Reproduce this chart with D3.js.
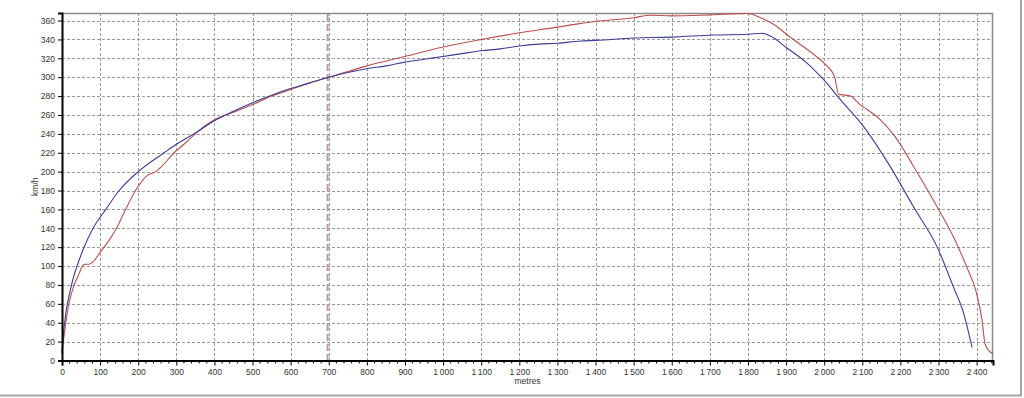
<!DOCTYPE html>
<html>
<head>
<meta charset="utf-8">
<script src="https://cdn.jsdelivr.net/npm/d3@7"></script>
<style>
  body { margin: 0; background: #fff; }
  text { font-family: "Liberation Sans", Arial, sans-serif; fill: #333; }
</style>
</head>
<body>
<div id="graph"></div>
<script>
// distances (metres) and speeds (km/h)
var blueDist = [0, 3, 10, 20, 30, 43, 56, 80, 115, 150, 200, 268, 300, 350, 400, 450, 500, 550, 600, 650, 700, 750, 800, 850, 900, 950, 1000, 1050, 1100, 1150, 1200, 1250, 1300, 1361, 1400, 1500, 1600, 1709, 1800, 1837, 1859, 1902, 1955, 1998, 2043, 2103, 2173, 2234, 2296, 2339, 2366, 2388]
var blueSpeed = [8, 25, 50, 71, 88, 104, 118, 139, 160, 180, 200, 220, 229, 241, 254, 264, 273, 281, 288, 294, 300, 305, 309, 312, 316, 319, 322, 325, 328, 330, 333, 335, 336, 338.4, 339, 341.5, 342.5, 344.7, 345.5, 346.5, 343.6, 331, 315, 297.6, 276, 248, 205.6, 163, 120.6, 78, 50, 14]

var redDist = [0, 5, 10, 18, 32, 45, 53, 60, 71, 80, 101, 123, 143, 167, 193, 210, 224, 246, 263, 294, 320, 350, 380, 400, 450, 500, 550, 600, 650, 700, 750, 800, 900, 1000, 1100, 1200, 1300, 1361, 1400, 1500, 1544, 1600, 1700, 1798, 1833, 1867, 1912, 1973, 2007, 2027, 2038, 2055, 2069, 2094, 2112, 2147, 2186, 2234, 2296, 2339, 2374, 2400, 2414, 2422, 2431, 2444]
var redSpeed = [8, 25, 40, 60, 80, 92, 100, 102, 102, 104, 115, 127, 140, 160, 180, 190, 196, 200, 206, 220, 229, 240, 250, 255, 263, 271, 280, 287, 294, 300, 306, 312, 322, 332, 340, 347, 353, 357, 359, 363, 365.6, 365, 366, 367.4, 363, 356, 342, 324, 312, 301, 282, 281, 280, 271, 266, 255, 237, 206, 163, 131, 99, 71, 43, 18, 11, 7]

var markerDist = 697
var yTicks = d3.range(0, 361, 20)
var xTicks = d3.range(0, 2401, 100)
var xMinor = d3.range(0, 2441, 20)

var svg
var graph
var x
var y
var margin = {top: 13, right: 31, bottom: 37.5, left: 62},
  width = 1024 - margin.left - margin.right,
  height = 398 - margin.top - margin.bottom;

var fmt = d => d >= 1000 ? Math.floor(d / 1000) + "\u2009" + d3.format("03d")(d % 1000) : d

function setGraph() {
  svg = d3.select("#graph").append("svg")
    .attr("width", 1024)
    .attr("height", 398)

  // outer panel edge
  svg.append("line").attr("x1", 1021).attr("x2", 1021).attr("y1", 0).attr("y2", 396)
    .attr("stroke", "#a8a8a8").attr("stroke-width", 2)
  svg.append("line").attr("x1", 0).attr("x2", 1022).attr("y1", 395.5).attr("y2", 395.5)
    .attr("stroke", "#a8a8a8").attr("stroke-width", 2)

  graph = svg.append("g")
    .attr("transform", "translate(" + margin.left + "," + margin.top + ")");

  x = d3.scaleLinear().domain([0, 2443]).range([0, width])
  y = d3.scaleLinear().domain([0, 368]).range([height, 0])
}

function renderGraph() {
  // grid
  graph.append("g")
    .selectAll("line")
    .data(yTicks.slice(1))
    .enter().append("line")
    .attr("x1", 0).attr("x2", width)
    .attr("y1", d => Math.round(y(d)) + 0.5).attr("y2", d => Math.round(y(d)) + 0.5)
    .attr("stroke", "#9a9a9a").attr("stroke-dasharray", "3,2")

  graph.append("g")
    .selectAll("line")
    .data(xTicks.slice(1))
    .enter().append("line")
    .attr("y1", 0).attr("y2", height)
    .attr("x1", d => Math.round(x(d)) + 0.5).attr("x2", d => Math.round(x(d)) + 0.5)
    .attr("stroke", "#9a9a9a").attr("stroke-dasharray", "3,2")

  // top / right border
  graph.append("path")
    .attr("d", "M0,0.5H" + (width - 0.5) + "V" + height)
    .attr("fill", "none").attr("stroke", "#8a8a8a").attr("stroke-width", 1.5)

  // marker line
  graph.append("line")
    .attr("x1", x(markerDist)).attr("x2", x(markerDist))
    .attr("y1", 1).attr("y2", height)
    .attr("stroke", "#b8999e").attr("stroke-width", 2).attr("stroke-dasharray", "7,3")

  // series
  var line = d3.line().curve(d3.curveMonotoneX).x(d => x(d[0])).y(d => y(d[1]))
  graph.append("path")
    .datum(redDist.map((d, i) => [d, redSpeed[i]]))
    .attr("d", line)
    .attr("fill", "none").attr("stroke", "#bb4f4f").attr("stroke-width", 1.1)
  graph.append("path")
    .datum(blueDist.map((d, i) => [d, blueSpeed[i]]))
    .attr("d", line)
    .attr("fill", "none").attr("stroke", "#3c3c96").attr("stroke-width", 1.1)

  // axes
  var yAxis = graph.append("g")
    .call(d3.axisLeft(y).tickValues(yTicks).tickSize(4).tickPadding(3))
  var xAxis = graph.append("g")
    .attr("transform", "translate(0," + height + ")")
    .call(d3.axisBottom(x).tickValues(xTicks).tickSize(5).tickPadding(3).tickFormat(fmt))
  graph.append("g")
    .attr("transform", "translate(0," + height + ")")
    .selectAll("line")
    .data(xMinor.filter(d => d % 100 != 0))
    .enter().append("line")
    .attr("x1", d => x(d)).attr("x2", d => x(d))
    .attr("y1", 0).attr("y2", 3)
    .attr("stroke", "#000")

  ;[yAxis, xAxis].forEach(a => {
    a.select(".domain").attr("stroke", "#000").attr("stroke-width", 2)
    a.selectAll("text").attr("font-size", 8.5).attr("fill", "#333").attr("font-family", "Liberation Sans, Arial, sans-serif")
  })

  // axis titles
  graph.append("text")
    .attr("transform", "translate(-24," + height / 2 + ") rotate(-90)")
    .attr("text-anchor", "middle")
    .attr("font-size", 8.5)
    .text("km/h")
  graph.append("text")
    .attr("x", width / 2)
    .attr("y", height + 23.5)
    .attr("text-anchor", "middle")
    .attr("font-size", 8.5)
    .text("metres")
}

setGraph()
renderGraph()
</script>
</body>
</html>
